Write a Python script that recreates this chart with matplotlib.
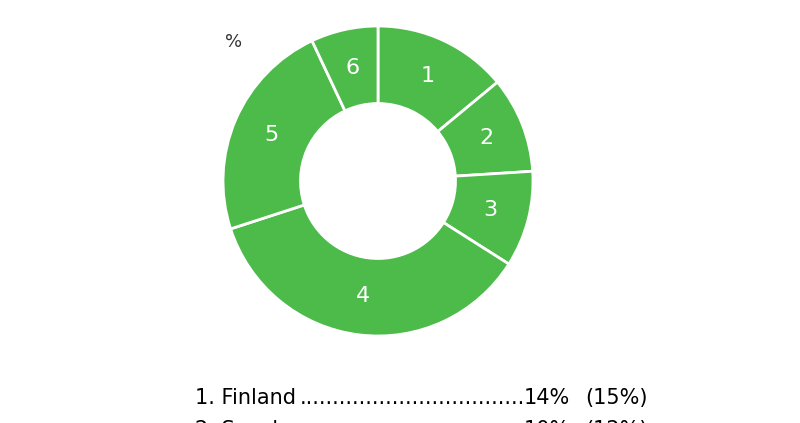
import matplotlib.pyplot as plt

labels = ['1', '2', '3', '4', '5', '6']
shares = [14, 10, 10, 36, 23, 7]
rows = [('1. Finland', '14%', '(15%)'), ('2. Sweden', '10%', '(12%)')]

W, H = 800, 423
fig = plt.figure(figsize=(8, 4.23), dpi=100)
fig.patch.set_facecolor('white')

cx, cy, r = 378, 181, 155
ax = fig.add_axes([(cx - r) / W, (H - cy - r) / H, 2 * r / W, 2 * r / H])
wedges, texts = ax.pie(shares, labels=labels, startangle=90, counterclock=False,
                       colors=['#4cbb4a'] * len(shares), labeldistance=0.75,
                       wedgeprops=dict(width=0.5, edgecolor='white', linewidth=2),
                       textprops=dict(color='white', fontsize=16, family='DejaVu Sans'))
for t in texts:
    t.set_ha('center')
    t.set_va('center')
ax.set_xlim(-1, 1)
ax.set_ylim(-1, 1)
ax.set_aspect('equal')
ax.axis('off')

fig.text(225 / W, 1 - 42 / H, '%', fontsize=13, color='#333333', ha='left', va='center')

for i, (name, pct, prev) in enumerate(rows):
    y = 1 - (398 + i * 32) / H
    fig.text(195 / W, y, name, fontsize=15, color='black', va='center')
    fig.text(300 / W, y, '.' * 34, fontsize=15, color='black', va='center')
    fig.text(570 / W, y, pct, fontsize=15, color='black', va='center', ha='right')
    fig.text(648 / W, y, prev, fontsize=15, color='black', va='center', ha='right')

fig.savefig('out.png', dpi=100, facecolor='white')
